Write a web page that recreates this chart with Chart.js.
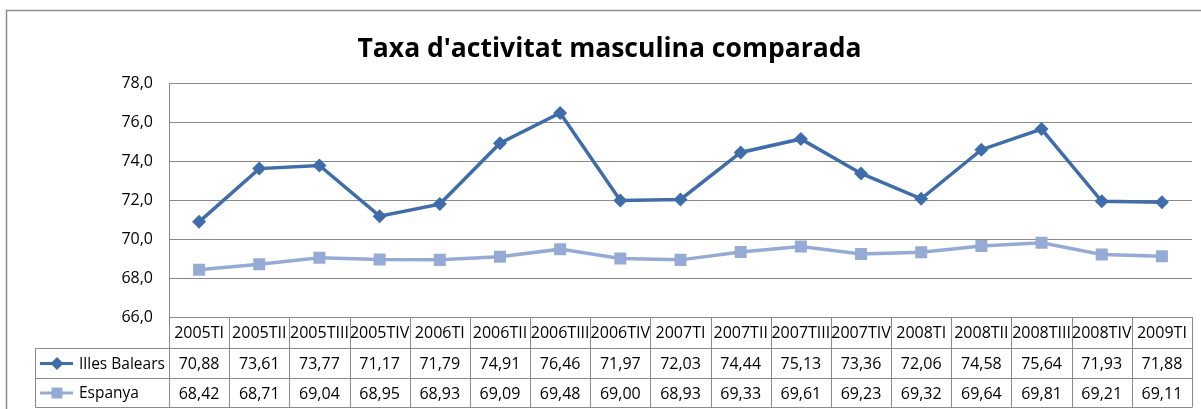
<!DOCTYPE html>
<html>
<head>
<meta charset="utf-8">
<script src="https://cdn.jsdelivr.net/npm/chart.js@4.4.1/dist/chart.umd.min.js"></script>
<style>
  html, body { margin: 0; padding: 0; background: #ffffff; }
  canvas { display: block; }
</style>
</head>
<body>
<canvas id="c" width="1201" height="409"></canvas>
<script>
const titleText = "Taxa d'activitat masculina comparada";
const categories = ['2005TI','2005TII','2005TIII','2005TIV','2006TI','2006TII','2006TIII','2006TIV','2007TI','2007TII','2007TIII','2007TIV','2008TI','2008TII','2008TIII','2008TIV','2009TI'];
const illesBalears = [70.88,73.61,73.77,71.17,71.79,74.91,76.46,71.97,72.03,74.44,75.13,73.36,72.06,74.58,75.64,71.93,71.88];
const espanya = [68.42,68.71,69.04,68.95,68.93,69.09,69.48,69.00,68.93,69.33,69.61,69.23,69.32,69.64,69.81,69.21,69.11];
const seriesNames = ['Illes Balears', 'Espanya'];
const yMin = 66, yMax = 78, yStep = 2;

const COLOR1 = '#3F6DAA';
const COLOR2 = '#95ABD6';
const GRID = '#8a8a8a';
const FONT = "'Open Sans', 'Noto Sans', sans-serif";

function fmt(v, d) { return v.toFixed(d).replace('.', ','); }

function marker(ctx, style, x, y, color) {
  ctx.save();
  ctx.fillStyle = color;
  ctx.beginPath();
  if (style === 'diamond') {
    const r = 6.5;
    ctx.moveTo(x, y - r); ctx.lineTo(x + r, y); ctx.lineTo(x, y + r); ctx.lineTo(x - r, y);
    ctx.closePath();
  } else {
    const s = 5.5;
    ctx.rect(x - s, y - s, 2 * s, 2 * s);
  }
  ctx.fill();
  ctx.restore();
}

const extras = {
  id: 'extras',
  afterDraw(chart) {
    const ctx = chart.ctx;
    const xs = chart.scales.x;
    const area = chart.chartArea;
    const n = categories.length;
    const step = xs.getPixelForValue(1) - xs.getPixelForValue(0);
    const half = step / 2;
    const legendLeft = 35.5;
    const rowTop = area.bottom;
    const r1 = 348.5, r2 = 378.5, r3 = 407.5;

    ctx.save();
    // outer border
    ctx.strokeStyle = '#8c8c8c';
    ctx.lineWidth = 1.5;
    ctx.beginPath();
    ctx.moveTo(6.5, 420); ctx.lineTo(6.5, 10.5); ctx.lineTo(1215, 10.5);
    ctx.stroke();

    // title
    ctx.fillStyle = '#000000';
    ctx.font = "bold 26.5px " + FONT;
    ctx.textAlign = 'center';
    ctx.textBaseline = 'alphabetic';
    ctx.fillText(titleText, 609.5, 57);

    // table grid
    ctx.strokeStyle = GRID;
    ctx.lineWidth = 1;
    ctx.beginPath();
    for (let i = 0; i <= n; i++) {
      const bx = Math.round(xs.getPixelForValue(0) - half + i * step) + 0.5;
      ctx.moveTo(bx, rowTop); ctx.lineTo(bx, r3);
    }
    ctx.moveTo(Math.round(area.left) + 0.5, area.top); ctx.lineTo(Math.round(area.left) + 0.5, r3);
    ctx.moveTo(legendLeft, r1); ctx.lineTo(legendLeft, r3);
    [r1, r2, r3].forEach(yy => { ctx.moveTo(legendLeft, yy); ctx.lineTo(area.right, yy); });
    ctx.stroke();

    // header labels and values
    ctx.font = "16px " + FONT;
    ctx.fillStyle = '#000000';
    ctx.textAlign = 'center';
    ctx.textBaseline = 'middle';
    const hy = (rowTop + r1) / 2 + 1;
    const y1 = (r1 + r2) / 2 + 1;
    const y2 = (r2 + r3) / 2 + 1;
    for (let i = 0; i < n; i++) {
      const cx = xs.getPixelForValue(i);
      ctx.fillText(categories[i], cx, hy);
      ctx.fillText(fmt(illesBalears[i], 2), cx, y1);
      ctx.fillText(fmt(espanya[i], 2), cx, y2);
    }

    // legend keys
    ctx.lineWidth = 3;
    ctx.strokeStyle = COLOR1;
    ctx.beginPath(); ctx.moveTo(40, y1 - 1); ctx.lineTo(73, y1 - 1); ctx.stroke();
    marker(ctx, 'diamond', 57, y1 - 1, COLOR1);
    ctx.strokeStyle = COLOR2;
    ctx.beginPath(); ctx.moveTo(40, y2 - 1); ctx.lineTo(73, y2 - 1); ctx.stroke();
    marker(ctx, 'square', 57, y2 - 1, COLOR2);

    ctx.fillStyle = '#000000';
    ctx.textAlign = 'left';
    ctx.font = "15.5px " + FONT;
    ctx.fillText(seriesNames[0], 79, y1);
    ctx.fillText(seriesNames[1], 79, y2);
    ctx.restore();
  }
};

new Chart(document.getElementById('c'), {
  type: 'line',
  data: {
    labels: categories,
    datasets: [
      {
        label: seriesNames[0],
        data: illesBalears,
        borderColor: COLOR1,
        backgroundColor: COLOR1,
        borderWidth: 3.5,
        pointStyle: 'rectRot',
        pointRadius: 7,
        pointHoverRadius: 7,
        pointBorderWidth: 0,
        tension: 0
      },
      {
        label: seriesNames[1],
        data: espanya,
        borderColor: COLOR2,
        backgroundColor: COLOR2,
        borderWidth: 3.5,
        pointStyle: 'rect',
        pointRadius: 8.5,
        pointHoverRadius: 8.5,
        pointBorderWidth: 0,
        tension: 0
      }
    ]
  },
  options: {
    responsive: false,
    animation: false,
    events: [],
    layout: { padding: { left: 0, top: 83, right: 9, bottom: 92 } },
    plugins: {
      legend: { display: false },
      title: { display: false },
      tooltip: { enabled: false }
    },
    scales: {
      x: {
        type: 'category',
        display: false,
        offset: true
      },
      y: {
        min: yMin,
        max: yMax,
        afterFit(scale) { scale.width = 169; },
        ticks: {
          stepSize: yStep,
          padding: 16,
          color: '#000000',
          font: { family: FONT, size: 16 },
          callback: v => fmt(v, 1)
        },
        grid: { color: GRID, lineWidth: 1, drawTicks: false },
        border: { display: true, color: GRID, width: 1 }
      }
    }
  },
  plugins: [extras]
});
</script>
</body>
</html>
